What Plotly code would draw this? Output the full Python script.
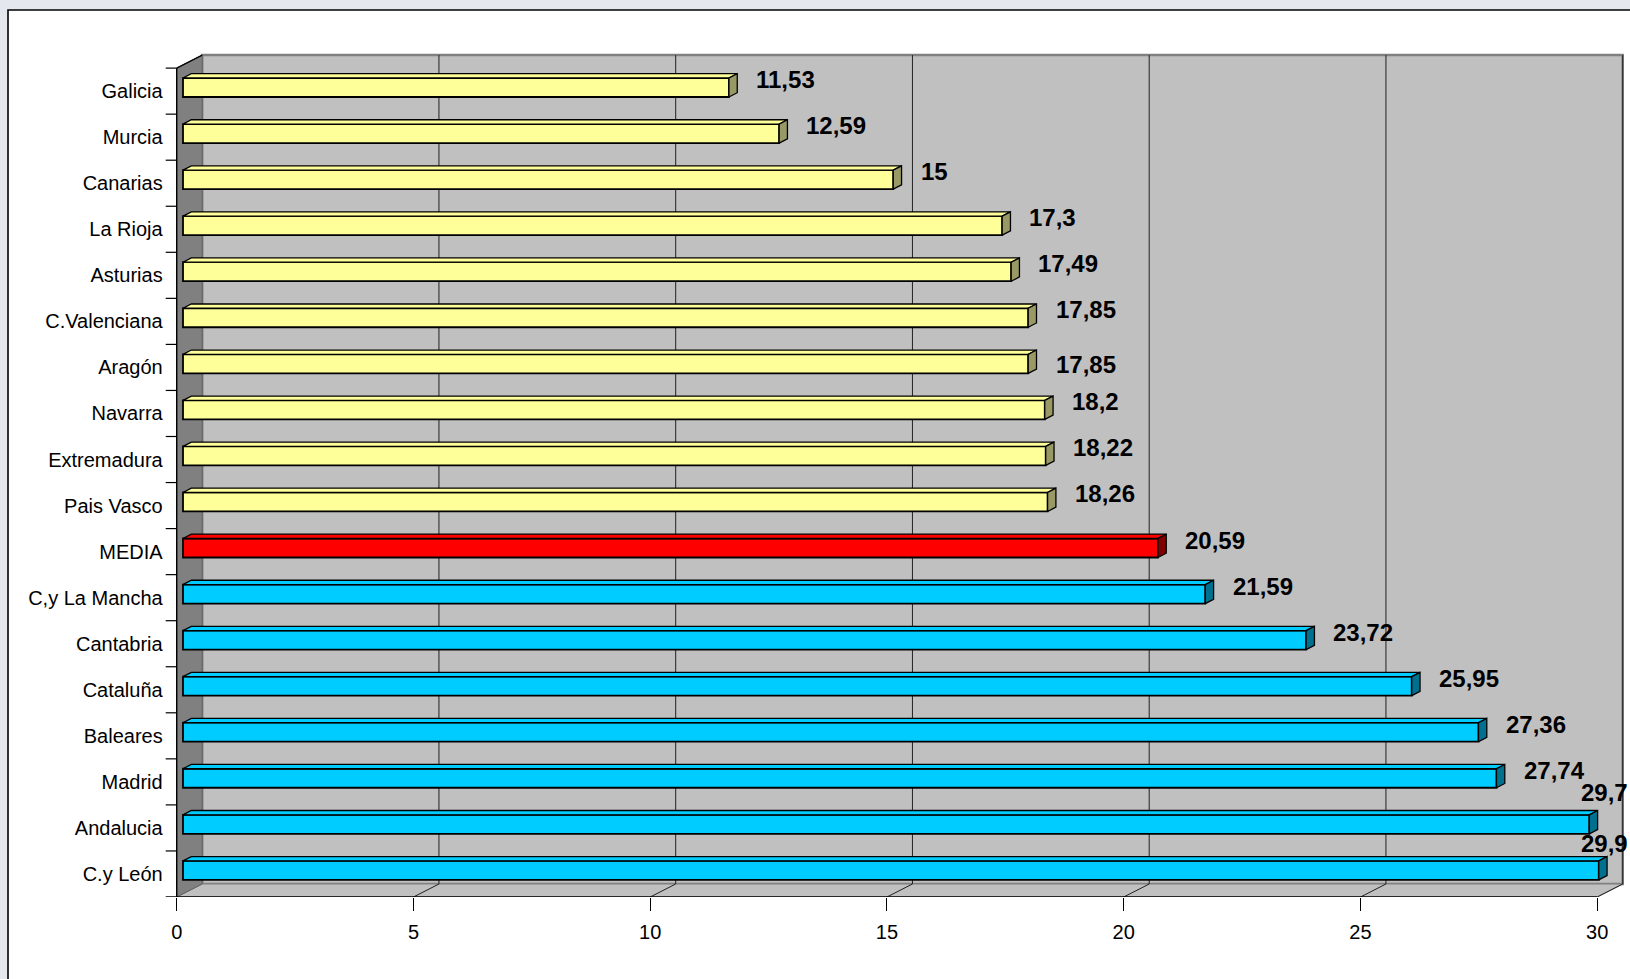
import plotly.graph_objects as go

# ---------------- data ----------------
categories = ["Galicia", "Murcia", "Canarias", "La Rioja", "Asturias", "C.Valenciana",
              "Aragón", "Navarra", "Extremadura", "Pais Vasco", "MEDIA", "C,y La Mancha",
              "Cantabria", "Cataluña", "Baleares", "Madrid", "Andalucia", "C.y León"]
values = [11.53, 12.59, 15, 17.3, 17.49, 17.85, 17.85, 18.2, 18.22, 18.26, 20.59,
          21.59, 23.72, 25.95, 27.36, 27.74, 29.7, 29.9]
groups = ["below"] * 10 + ["media"] + ["above"] * 7
x_ticks = [0, 5, 10, 15, 20, 25, 30]

# ---------------- style ----------------
palette = {
    "below": {"front": "#ffff99", "top": "#ffff99", "side": "#999966"},
    "media": {"front": "#ff0000", "top": "#ff0000", "side": "#800000"},
    "above": {"front": "#00ccff", "top": "#00ccff", "side": "#00708f"},
}
label_nudge_px = {"Aragón": (0, 9), "Andalucia": (-36, -24), "C.y León": (-45, -19)}

W, H = 1630, 979
X0_PX = 176.7          # pixel of value 0 on the front plane
PX_PER_X = 47.35
AX_BOTTOM_PX = 897
PX_PER_ROW = 46.05

def dxu(px):
    return px / PX_PER_X

def dyu(px):
    return px / PX_PER_ROW

xrange = [-X0_PX / PX_PER_X, (W - X0_PX) / PX_PER_X]
yrange = [0, AX_BOTTOM_PX / PX_PER_ROW]

n = len(categories)
xmax = x_ticks[-1]
DX, DY = dxu(25.5), dyu(13)          # chart depth
FX, FY = dxu(6.3), dyu(3.6)          # bar front-face offset
BX, BY = dxu(8.3), dyu(4.3)          # bar depth
BAR_H = dyu(19)

row_y = [n - 1 - i + 0.5 for i in range(n)]
bar_y = [y + FY for y in row_y]

FONT = "Liberation Sans Narrow, Arial Narrow, Liberation Sans, Arial, sans-serif"

fig = go.Figure()

# front faces
for g in ["below", "media", "above"]:
    idx = [i for i in range(n) if groups[i] == g]
    fig.add_trace(go.Bar(
        orientation="h",
        y=[bar_y[i] for i in idx],
        x=[values[i] for i in idx],
        base=FX,
        width=BAR_H,
        marker=dict(color=palette[g]["front"], line=dict(color="black", width=1.8)),
        hoverinfo="skip", showlegend=False,
    ))

# top & side faces
for g in ["below", "media", "above"]:
    tx, ty, sx, sy = [], [], [], []
    for i in range(n):
        if groups[i] != g:
            continue
        v = values[i]
        top = bar_y[i] + BAR_H / 2
        bot = bar_y[i] - BAR_H / 2
        tx += [FX, FX + v, FX + v + BX, FX + BX, FX, None]
        ty += [top, top, top + BY, top + BY, top, None]
        sx += [FX + v, FX + v + BX, FX + v + BX, FX + v, FX + v, None]
        sy += [bot, bot + BY, top + BY, top, bot, None]
    fig.add_trace(go.Scatter(x=tx, y=ty, mode="lines", fill="toself",
                             fillcolor=palette[g]["top"],
                             line=dict(color="black", width=1.3),
                             hoverinfo="skip", showlegend=False))
    fig.add_trace(go.Scatter(x=sx, y=sy, mode="lines", fill="toself",
                             fillcolor=palette[g]["side"],
                             line=dict(color="black", width=1.3),
                             hoverinfo="skip", showlegend=False))

# ---------------- shapes (chart frame, walls, grid) ----------------
shapes = []
shapes.append(dict(type="rect", xref="paper", yref="paper",
                   x0=8 / W, x1=(W + 20) / W, y0=-20 / H, y1=1 - 10 / H,
                   fillcolor="white", line=dict(color="black", width=1.6), layer="below"))
shapes.append(dict(type="rect", xref="x", yref="y", x0=DX, x1=xmax + DX, y0=DY, y1=n + DY,
                   fillcolor="#c0c0c0", line=dict(color="#808080", width=2.5), layer="below"))
shapes.append(dict(type="path", xref="x", yref="y",
                   path=f"M 0 0 L {xmax} 0 L {xmax + DX} {DY} L {DX} {DY} Z",
                   fillcolor="#c0c0c0", line=dict(color="#808080", width=1), layer="below"))
shapes.append(dict(type="path", xref="x", yref="y",
                   path=f"M 0 0 L 0 {n} L {DX} {n + DY} L {DX} {DY} Z",
                   fillcolor="#808080", line=dict(color="#606060", width=1), layer="below"))
for t in x_ticks[1:]:
    shapes.append(dict(type="line", xref="x", yref="y", x0=t + DX, x1=t + DX, y0=DY, y1=n + DY,
                       line=dict(color="#202020", width=1), layer="below"))
    shapes.append(dict(type="line", xref="x", yref="y", x0=t, x1=t + DX, y0=0, y1=DY,
                       line=dict(color="#202020", width=1), layer="below"))
shapes.append(dict(type="line", xref="x", yref="y", x0=0, x1=DX, y0=n, y1=n + DY,
                   line=dict(color="black", width=1.2), layer="below"))
shapes.append(dict(type="line", xref="x", yref="y", x0=0, x1=0, y0=0, y1=n,
                   line=dict(color="black", width=1.4), layer="below"))
shapes.append(dict(type="line", xref="x", yref="y", x0=-dxu(11), x1=xmax, y0=0, y1=0,
                   line=dict(color="black", width=1.4), layer="below"))
for b in range(1, n + 1):
    shapes.append(dict(type="line", xref="x", yref="y", x0=-dxu(11), x1=0, y0=b, y1=b,
                       line=dict(color="black", width=1.2), layer="below"))

# ---------------- value labels ----------------
annotations = []
for i in range(n):
    v = values[i]
    nx, ny = label_nudge_px.get(categories[i], (0, 0))
    annotations.append(dict(
        x=FX + v + BX + dxu(17 + nx), y=bar_y[i] + dyu(8 - ny),
        xref="x", yref="y", text=f"{v:g}".replace(".", ","),
        showarrow=False, xanchor="left", yanchor="middle",
        font=dict(family=FONT, size=24, color="black", weight="bold"),
    ))

fig.update_layout(
    width=W, height=H,
    margin=dict(l=0, r=0, t=0, b=0),
    paper_bgcolor="#e4e8ee",
    plot_bgcolor="rgba(0,0,0,0)",
    barmode="overlay",
    showlegend=False,
    shapes=shapes,
    annotations=annotations,
    xaxis=dict(domain=[0, 1], range=xrange, tickvals=x_ticks,
               ticktext=[str(t) for t in x_ticks],
               ticks="outside", ticklen=13, tickwidth=1.4, tickcolor="black",
               showgrid=False, zeroline=False, showline=False,
               tickfont=dict(family=FONT, size=20, color="black"),
               ticklabelstandoff=4, fixedrange=True),
    yaxis=dict(domain=[(H - AX_BOTTOM_PX) / H, 1], range=yrange,
               anchor="free", position=X0_PX / W,
               tickvals=row_y, ticktext=categories, ticks="",
               showgrid=False, zeroline=False, showline=False,
               tickfont=dict(family=FONT, size=20, color="black"),
               ticklabelstandoff=14, fixedrange=True),
)

fig.write_html("out.html")
